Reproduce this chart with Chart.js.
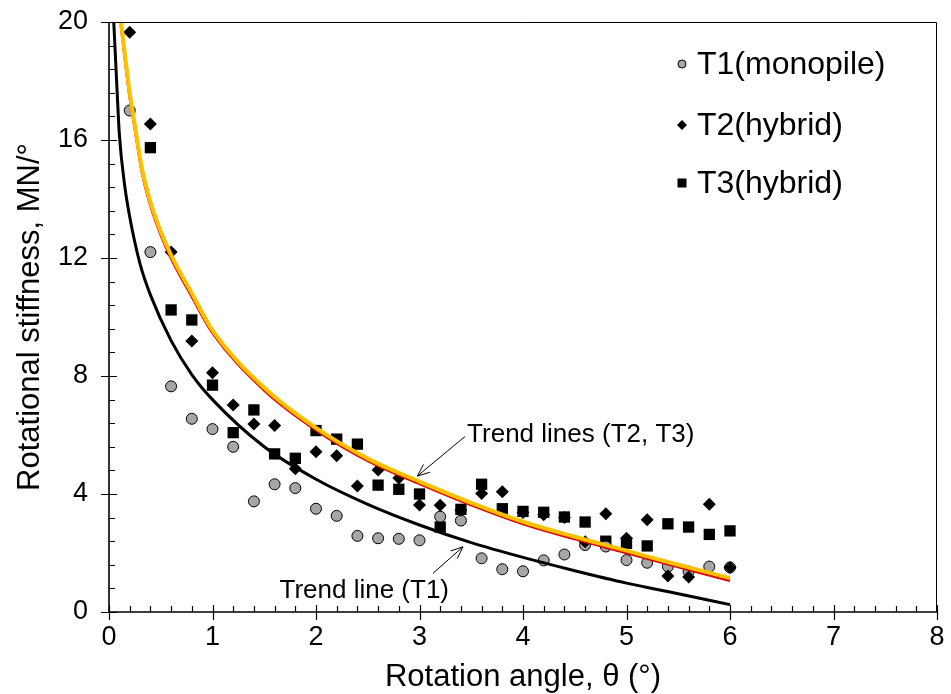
<!DOCTYPE html>
<html>
<head>
<meta charset="utf-8">
<script src="https://cdn.jsdelivr.net/npm/chart.js@4.4.1/dist/chart.umd.min.js"></script>
<style>
  html, body { margin: 0; padding: 0; background: #fff; }
  #wrap { width: 951px; height: 694px; }
</style>
</head>
<body>
<div id="wrap"><canvas id="stiffnessChart" width="951" height="694"></canvas></div>
<script>
// rotation angle of each measurement (deg)
const angles = [0.2, 0.4, 0.6, 0.8, 1.0, 1.2, 1.4, 1.6, 1.8, 2.0,
                2.2, 2.4, 2.6, 2.8, 3.0, 3.2, 3.4, 3.6, 3.8, 4.0,
                4.2, 4.4, 4.6, 4.8, 5.0, 5.2, 5.4, 5.6, 5.8, 6.0];

// rotational stiffness, MN/deg
const t1Monopile = [17.0, 12.2, 7.65, 6.55, 6.2, 5.6, 3.75, 4.33, 4.2, 3.5,
                    3.26, 2.58, 2.5, 2.48, 2.43, 3.23, 3.1, 1.82, 1.45, 1.38,
                    1.75, 1.95, 2.27, 2.22, 1.76, 1.67, 1.54, 1.37, 1.54, 1.51];
const t2Hybrid = [19.65, 16.54, 12.2, 9.19, 8.11, 7.02, 6.37, 6.32, 4.86, 5.43,
                  5.3, 4.27, 4.81, 4.54, 3.63, 3.62, 3.45, 4.02, 4.08, 3.37,
                  3.3, 3.2, 2.38, 3.33, 2.5, 3.13, 1.22, 1.19, 3.65, 1.51];
const t3Hybrid = [null, 15.74, 10.24, 9.9, 7.69, 6.08, 6.85, 5.36, 5.21, 6.15,
                  5.86, 5.69, 4.3, 4.16, 4.0, 2.88, 3.48, 4.33, 3.5, 3.41,
                  3.38, 3.22, 3.05, 2.4, 2.33, 2.24, 2.99, 2.88, 2.63, 2.75];

// trend lines
const trendT1X = [0.046, 0.075, 0.1, 0.15, 0.2, 0.3, 0.4, 0.6, 0.8, 1.0,
                  1.5, 2.0, 2.5, 3.0, 3.5, 4.0, 4.5, 5.0, 5.5, 6.0];
const trendT1Y = [20.0, 17.9, 16.2, 14.5, 13.4, 11.8, 10.75, 9.2, 8.05, 7.2,
                  5.6, 4.5, 3.65, 2.95, 2.35, 1.85, 1.4, 0.98, 0.62, 0.25];
const trendHybX = [0.116, 0.15, 0.2, 0.25, 0.32, 0.4, 0.5, 0.6, 0.8, 1.0,
                   1.5, 2.0, 2.5, 3.0, 3.5, 4.0, 4.5, 5.0, 5.5, 6.0];
const trendT2Y = [20.0, 19.0, 17.6, 16.5, 15.0, 13.9, 12.9, 12.1, 10.8, 9.55,
                  7.6, 6.24, 5.2, 4.42, 3.7, 3.06, 2.55, 2.08, 1.6, 1.15];
const trendT3Y = [19.9, 18.9, 17.5, 16.4, 14.9, 13.8, 12.8, 12.0, 10.7, 9.47,
                  7.52, 6.17, 5.13, 4.35, 3.63, 2.99, 2.48, 2.01, 1.53, 1.07];

const xTickLabels = [0, 1, 2, 3, 4, 5, 6, 7, 8];
const yTickLabels = [0, 4, 8, 12, 16, 20];

const seriesNames = ["T1(monopile)", "T2(hybrid)", "T3(hybrid)"];

const FONT = "'Liberation Sans', Arial, sans-serif";

function toPoints(xs, ys) {
  const pts = [];
  xs.forEach(function (x, i) {
    if (ys[i] !== null) pts.push({ x: x, y: ys[i] });
  });
  return pts;
}

function arrow(ctx, x1, y1, x2, y2) {
  const ang = Math.atan2(y2 - y1, x2 - x1);
  const len = 13;
  ctx.beginPath();
  ctx.moveTo(x1, y1);
  ctx.lineTo(x2, y2);
  ctx.moveTo(x2 - len * Math.cos(ang - 0.4), y2 - len * Math.sin(ang - 0.4));
  ctx.lineTo(x2, y2);
  ctx.lineTo(x2 - len * Math.cos(ang + 0.4), y2 - len * Math.sin(ang + 0.4));
  ctx.stroke();
}

// axes frame, inner ticks, titles, legend, notes
const decorPlugin = {
  id: "decor",
  afterDraw(chart) {
    const ctx = chart.ctx;
    const xs = chart.scales.x;
    const ys = chart.scales.y;
    const a = chart.chartArea;
    ctx.save();

    ctx.strokeStyle = "#000";
    ctx.lineWidth = 1;
    ctx.beginPath();
    ctx.moveTo(a.left, a.top + 0.5);
    ctx.lineTo(a.right - 0.5, a.top + 0.5);
    ctx.lineTo(a.right - 0.5, a.bottom);
    ctx.stroke();

    ctx.lineWidth = 1.6;
    ctx.beginPath();
    ctx.moveTo(a.left, a.top);
    ctx.lineTo(a.left, a.bottom);
    ctx.lineTo(a.right, a.bottom);
    ctx.stroke();

    ctx.lineWidth = 1.2;
    ctx.beginPath();
    for (let v = 0; v <= 8.001; v += 0.2) {
      const px = Math.round(xs.getPixelForValue(v)) + 0.5;
      const major = Math.abs(v - Math.round(v)) < 0.01;
      ctx.moveTo(px, a.bottom - (major ? 7 : 6));
      ctx.lineTo(px, a.bottom + (major ? 8 : 0));
    }
    for (let v = 0; v <= 20.001; v += 0.8) {
      const py = Math.round(ys.getPixelForValue(v)) + 0.5;
      const major = Math.abs(v / 4 - Math.round(v / 4)) < 0.01;
      ctx.moveTo(a.left - (major ? 8 : 0), py);
      ctx.lineTo(a.left + (major ? 8 : 6), py);
    }
    ctx.stroke();

    // axis titles
    ctx.fillStyle = "#000";
    ctx.font = "31px " + FONT;
    ctx.textAlign = "center";
    ctx.textBaseline = "middle";
    ctx.fillText("Rotation angle, \u03b8 (\u00b0)", (a.left + a.right) / 2, 677);
    ctx.save();
    ctx.translate(30, (a.top + a.bottom) / 2);
    ctx.rotate(-Math.PI / 2);
    ctx.fillText("Rotational stiffness, MN/\u00b0", 0, 0);
    ctx.restore();

    // trend line notes
    ctx.font = "26px " + FONT;
    ctx.textAlign = "left";
    ctx.fillText("Trend lines (T2, T3)", xs.getPixelForValue(3.46), ys.getPixelForValue(6.0));
    ctx.textAlign = "right";
    ctx.fillText("Trend line (T1)", xs.getPixelForValue(3.285), ys.getPixelForValue(0.71));
    ctx.lineWidth = 1;
    arrow(ctx, xs.getPixelForValue(3.44), ys.getPixelForValue(5.95),
               xs.getPixelForValue(2.98), ys.getPixelForValue(4.61));
    arrow(ctx, xs.getPixelForValue(3.13), ys.getPixelForValue(1.31),
               xs.getPixelForValue(3.42), ys.getPixelForValue(2.21));

    // legend
    const lx = 682, tx = 697;
    const rows = [64, 125, 183];
    ctx.font = "32px " + FONT;
    ctx.textAlign = "left";
    ctx.textBaseline = "middle";
    seriesNames.forEach(function (name, i) {
      const y = rows[i];
      ctx.fillStyle = "#000";
      ctx.fillText(name, tx, y + 1);
      ctx.beginPath();
      if (i === 0) {
        ctx.arc(lx, y, 4, 0, Math.PI * 2);
        ctx.fillStyle = "#a6a6a6";
        ctx.fill();
        ctx.lineWidth = 1;
        ctx.strokeStyle = "#000";
        ctx.stroke();
      } else if (i === 1) {
        ctx.moveTo(lx - 5, y);
        ctx.lineTo(lx, y - 5);
        ctx.lineTo(lx + 5, y);
        ctx.lineTo(lx, y + 5);
        ctx.closePath();
        ctx.fill();
      } else {
        ctx.rect(lx - 4.5, y - 4.5, 9, 9);
        ctx.fill();
      }
    });
    ctx.restore();
  }
};

const ctx = document.getElementById("stiffnessChart").getContext("2d");
const stiffnessChart = new Chart(ctx, {
  type: "scatter",
  data: {
    datasets: [
      {
        label: "Trend line (T1)",
        data: toPoints(trendT1X, trendT1Y),
        showLine: true,
        pointRadius: 0,
        borderColor: "#000000",
        borderWidth: 3,
        cubicInterpolationMode: "monotone",
        order: 1,
      },
      {
        label: "Trend line (T2)",
        data: toPoints(trendHybX, trendT2Y),
        showLine: true,
        pointRadius: 0,
        borderColor: "#ffc000",
        borderWidth: 4,
        cubicInterpolationMode: "monotone",
        order: 2,
      },
      {
        label: "Trend line (T3)",
        data: toPoints(trendHybX, trendT3Y),
        showLine: true,
        pointRadius: 0,
        borderColor: "#e00000",
        borderWidth: 3,
        cubicInterpolationMode: "monotone",
        order: 3,
      },
      {
        label: seriesNames[1],
        data: toPoints(angles, t2Hybrid),
        pointStyle: "rectRot",
        pointRadius: 6.5,
        backgroundColor: "#000",
        borderColor: "#000",
        borderWidth: 0,
        order: 4,
      },
      {
        label: seriesNames[0],
        data: toPoints(angles, t1Monopile),
        pointStyle: "circle",
        pointRadius: 5.5,
        backgroundColor: "#a6a6a6",
        borderColor: "#000",
        borderWidth: 1,
        order: 5,
      },
      {
        label: seriesNames[2],
        data: toPoints(angles, t3Hybrid),
        pointStyle: "rect",
        pointRadius: 8,
        backgroundColor: "#000",
        borderColor: "#000",
        borderWidth: 0,
        order: 6,
      },
    ],
  },
  options: {
    responsive: false,
    animation: false,
    devicePixelRatio: 1,
    layout: { padding: { top: 22, right: 14, left: 0, bottom: 0 } },
    plugins: {
      legend: { display: false },
      tooltip: { enabled: false },
    },
    scales: {
      x: {
        type: "linear",
        min: 0,
        max: 8,
        grid: { display: false, drawTicks: false },
        border: { display: false },
        afterFit: function (scale) {
          scale.height = 82;
          scale.paddingLeft = 0;
          scale.paddingRight = 0;
        },
        afterBuildTicks: function (scale) {
          scale.ticks = xTickLabels.map(function (v) { return { value: v }; });
        },
        ticks: {
          color: "#000",
          padding: 9,
          maxRotation: 0,
          font: { family: FONT, size: 27 },
        },
      },
      y: {
        type: "linear",
        min: 0,
        max: 20,
        grid: { display: false, drawTicks: false },
        border: { display: false },
        afterFit: function (scale) {
          scale.width = 109;
          scale.paddingTop = 0;
          scale.paddingBottom = 0;
        },
        afterBuildTicks: function (scale) {
          scale.ticks = yTickLabels.map(function (v) { return { value: v }; });
        },
        ticks: {
          color: "#000",
          padding: 21,
          font: { family: FONT, size: 27 },
        },
      },
    },
  },
  plugins: [decorPlugin],
});
</script>
</body>
</html>
